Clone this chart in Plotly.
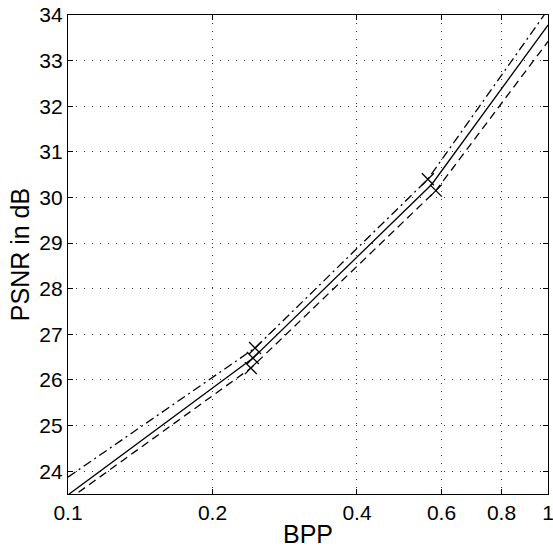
import numpy as np
import plotly.graph_objects as go

# Rate-distortion curves (BPP vs PSNR), knee points
solid_bpp = [0.1, 0.243, 0.573, 1.0]
solid_psnr = [23.48, 26.48, 30.29, 33.78]

dashdot_bpp = [0.1, 0.2453, 0.562, 1.0]
dashdot_psnr = [23.87, 26.70, 30.40, 34.12]

dashed_bpp = [0.1, 0.2404, 0.584, 1.0]
dashed_psnr = [23.37, 26.26, 30.15, 33.42]

# cross markers at the operating points
mark_bpp = [0.2453, 0.2428, 0.2404, 0.562, 0.584]
mark_psnr = [26.70, 26.48, 26.26, 30.40, 30.15]

x_ticks = [0.1, 0.2, 0.4, 0.6, 0.8, 1]
x_labels = ["0.1", "0.2", "0.4", "0.6", "0.8", "1"]
y_ticks = list(range(24, 35))

fig = go.Figure()

fig.add_trace(go.Scatter(x=solid_bpp, y=solid_psnr, mode="lines",
                         line=dict(color="black", width=1.3)))
fig.add_trace(go.Scatter(x=dashdot_bpp, y=dashdot_psnr, mode="lines",
                         line=dict(color="black", width=1.3, dash="9px,4px,2px,4px")))
fig.add_trace(go.Scatter(x=dashed_bpp, y=dashed_psnr, mode="lines",
                         line=dict(color="black", width=1.3, dash="8px,5px")))
fig.add_trace(go.Scatter(x=mark_bpp, y=mark_psnr, mode="markers",
                         marker=dict(symbol="x-thin-open", size=12, color="black",
                                     line=dict(width=1.3, color="black"))))

axis_common = dict(
    showline=True, linecolor="black", linewidth=1.2, mirror="ticks",
    ticks="inside", ticklen=5, tickcolor="black", tickwidth=1,
    showgrid=True, gridcolor="#333", griddash="1px,7px", gridwidth=1.2,
    zeroline=False, automargin=False, ticklabeloverflow="allow",
    tickfont=dict(family="Liberation Sans, Arial", size=21, color="black"),
    title_font=dict(family="Liberation Sans, Arial", size=25, color="black"),
)

fig.update_xaxes(type="log", range=[-1, 0], tickvals=x_ticks, ticktext=x_labels,
                 title_text="BPP", title_standoff=2, **axis_common)
fig.update_yaxes(range=[23.5, 34], tickvals=y_ticks,
                 title_text="PSNR in dB", title_standoff=2, **axis_common)

fig.update_layout(
    width=553, height=549,
    margin=dict(l=68, r=5, t=15, b=55),
    plot_bgcolor="white", paper_bgcolor="white",
    showlegend=False,
)

# drop the browser's default body margin so the figure sits at the window corner
fig.write_html("out.html", config={"displayModeBar": False},
               post_script="document.body.style.margin='0';")
